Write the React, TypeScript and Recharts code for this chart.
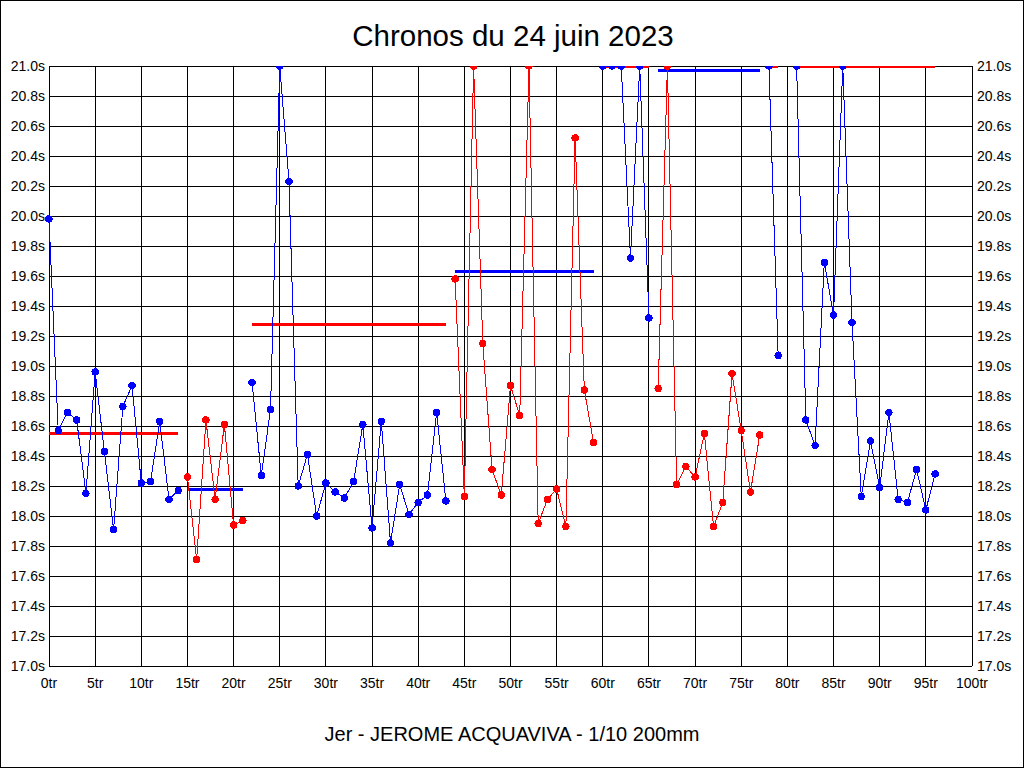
import React from 'react';
import { ComposedChart, Line, XAxis, YAxis, CartesianGrid } from 'recharts';

// Lap times (s), index = lap number; values at 21.0 are clipped at the top of the chart
const lapTimes: (number | null)[] = [
  19.98, 18.57, 18.69, 18.64, 18.15, 18.96, 18.43, 17.91, 18.73, 18.87,
  18.22, 18.23, 18.63, 18.11, 18.17, 18.26, 17.71, 18.64, 18.11, 18.61,
  17.94, 17.97, 18.89, 18.27, 18.71, 21.0, 20.23, 18.2, 18.41, 18.0,
  18.22, 18.16, 18.12, 18.23, 18.61, 17.92, 18.63, 17.82, 18.21, 18.01,
  18.09, 18.14, 18.69, 18.1, 19.58, 18.13, 21.0, 19.15, 18.31, 18.14,
  18.87, 18.67, 21.0, 17.95, 18.11, 18.18, 17.93, 20.52, 18.84, 18.49,
  21.0, 21.0, 21.0, 19.72, 21.0, 19.32, 18.85, 21.0, 18.21, 18.33,
  18.26, 18.55, 17.93, 18.09, 18.95, 18.57, 18.16, 18.54, 21.0, 19.07,
  null, 21.0, 18.64, 18.47, 19.69, 19.34, 21.0, 19.29, 18.13, 18.5,
  18.19, 18.69, 18.11, 18.09, 18.31, 18.04, 18.28,
];

// Stints: first lap, last lap, line colour, average time, average line colour
const segStart = [0, 15, 22, 44, 60, 66, 78, 81];
const segEnd = [14, 21, 43, 59, 65, 77, 79, 96];
const segColor = ['#0000ff', '#ff0000', '#0000ff', '#ff0000', '#0000ff', '#ff0000', '#0000ff', '#0000ff'];
const segAverage = [18.55, 18.18, 19.28, 19.63, 21.0, 20.97, 21.0, 21.0];
const segAvgColor = ['#ff0000', '#0000ff', '#ff0000', '#0000ff', '#ff0000', '#0000ff', '#ff0000', '#ff0000'];

const xTicks = [0, 5, 10, 15, 20, 25, 30, 35, 40, 45, 50, 55, 60, 65, 70, 75, 80, 85, 90, 95, 100];
const yTicks = [17.0, 17.2, 17.4, 17.6, 17.8, 18.0, 18.2, 18.4, 18.6, 18.8, 19.0, 19.2, 19.4, 19.6, 19.8, 20.0, 20.2, 20.4, 20.6, 20.8, 21.0];

const title = 'Chronos du 24 juin 2023';
const subtitle = 'Jer - JEROME ACQUAVIVA - 1/10 200mm';

const rows = lapTimes.map((t, lap) => {
  const row: Record<string, number | null> = { lap };
  segStart.forEach((s, i) => {
    if (lap >= s && lap <= segEnd[i]) {
      row['s' + i] = t;
      row['a' + i] = segAverage[i];
    }
  });
  return row;
});

const FONT = '"Liberation Sans", Arial, sans-serif';

export default function App() {
  const tickStyle = { fill: '#000', fontSize: 14, fontFamily: FONT };
  return (
    <div
      style={{
        position: 'absolute',
        left: 0,
        top: 0,
        width: 1024,
        height: 768,
        boxSizing: 'border-box',
        border: '1px solid #000',
        background: '#fff',
        fontFamily: FONT,
      }}
    >
      <div
        style={{
          position: 'absolute',
          left: 0,
          width: 1024,
          top: 17,
          textAlign: 'center',
          fontSize: 29.5,
          lineHeight: '36px',
          color: '#000',
        }}
      >
        {title}
      </div>
      <div
        style={{
          position: 'absolute',
          left: 0,
          width: 1022,
          top: 720,
          textAlign: 'center',
          fontSize: 20,
          lineHeight: '26px',
          color: '#000',
        }}
      >
        {subtitle}
      </div>
      <div style={{ position: 'absolute', left: -1, top: -1 }}>
        <ComposedChart
          width={1024}
          height={768}
          data={rows}
          margin={{ top: 66, right: 0, bottom: 72, left: 0 }}
        >
          <CartesianGrid yAxisId="left" stroke="#000" strokeOpacity={1} shapeRendering="crispEdges" />
          <XAxis
            dataKey="lap"
            type="number"
            domain={[0, 100]}
            ticks={xTicks}
            interval={0}
            tickFormatter={(v: number) => `${v}tr`}
            axisLine={false}
            tickLine={false}
            tickSize={0}
            tickMargin={12}
            height={30}
            tick={tickStyle}
          />
          <YAxis
            yAxisId="left"
            orientation="left"
            type="number"
            domain={[17, 21]}
            ticks={yTicks}
            interval={0}
            allowDataOverflow
            tickFormatter={(v: number) => `${v.toFixed(1)}s`}
            axisLine={false}
            tickLine={false}
            tickSize={0}
            tickMargin={4}
            width={49}
            tick={tickStyle}
          />
          <YAxis
            yAxisId="right"
            orientation="right"
            type="number"
            domain={[17, 21]}
            ticks={yTicks}
            interval={0}
            allowDataOverflow
            tickFormatter={(v: number) => `${v.toFixed(1)}s`}
            axisLine={false}
            tickLine={false}
            tickSize={0}
            tickMargin={5}
            width={52}
            tick={{ ...tickStyle, textAnchor: 'start' }}
          />
          {segStart.map((_, i) => (
            <Line
              key={'a' + i}
              yAxisId="left"
              dataKey={'a' + i}
              stroke={segAvgColor[i]}
              strokeWidth={3}
              dot={false}
              activeDot={false}
              isAnimationActive={false}
              connectNulls={false}
              type="linear"
              shapeRendering="crispEdges"
            />
          ))}
          {segStart.map((_, i) => (
            <Line
              key={'s' + i}
              yAxisId="left"
              dataKey={'s' + i}
              stroke={segColor[i]}
              strokeWidth={1}
              dot={{ r: 3.2, fill: segColor[i], stroke: segColor[i], strokeWidth: 1 }}
              activeDot={false}
              isAnimationActive={false}
              connectNulls={false}
              type="linear"
              shapeRendering="crispEdges"
            />
          ))}
        </ComposedChart>
      </div>
    </div>
  );
}
